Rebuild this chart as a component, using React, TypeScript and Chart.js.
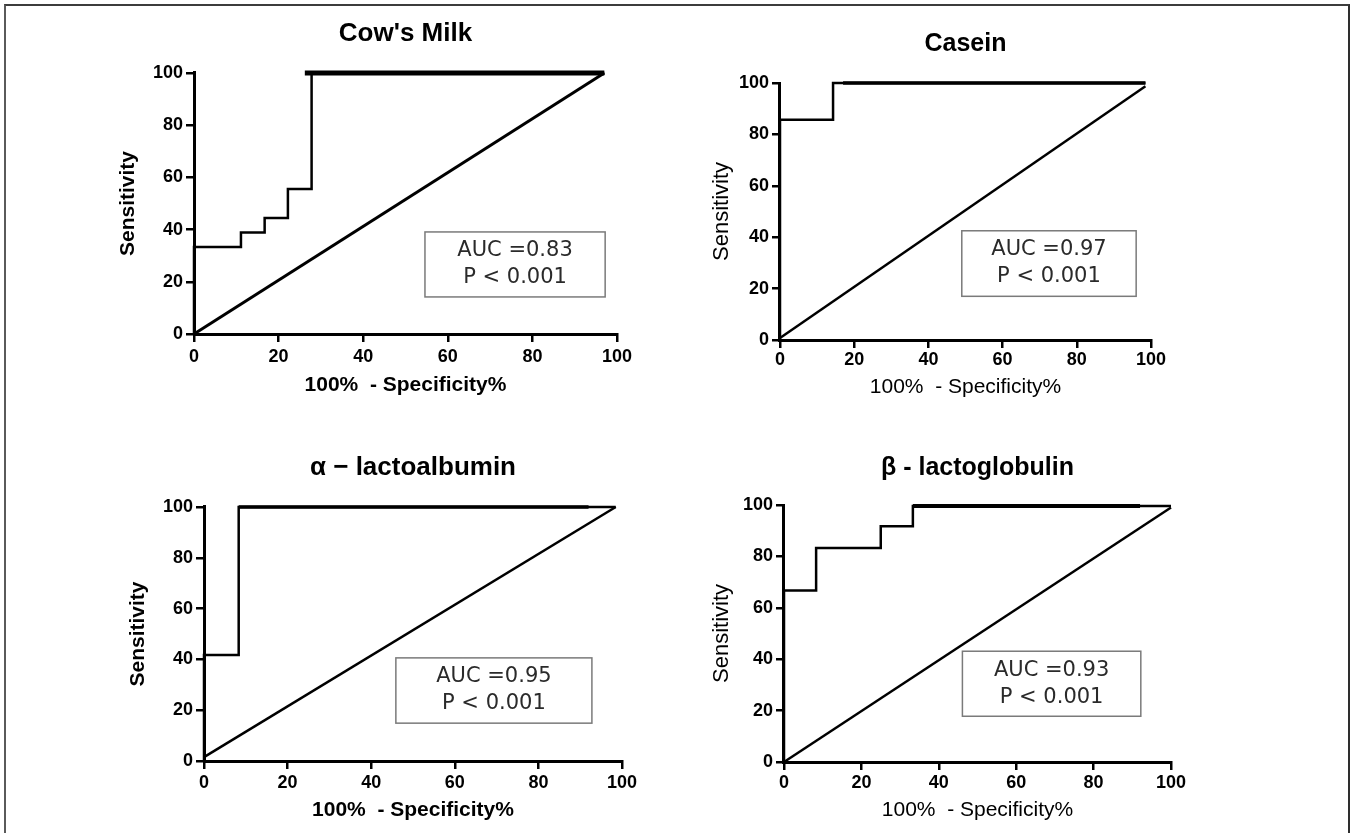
import React, { useEffect, useRef } from "react";
import { Chart, registerables } from "chart.js";

Chart.register(...registerables);

// ---------- data ----------
const xTicks = [0, 20, 40, 60, 80, 100];
const yTicks = [0, 20, 40, 60, 80, 100];

const titles = ["Cow's Milk", "Casein", "α − lactoalbumin", "β - lactoglobulin"];
const aucValues = ["0.83", "0.97", "0.95", "0.93"];
const pValues = ["0.001", "0.001", "0.001", "0.001"];

// Cow's milk ROC (points of the staircase; drawn horizontal-then-vertical)
const cowRocX = [0, 0, 11.1, 16.7, 22.2, 27.8, 97];
const cowRocY = [0, 33.3, 38.9, 44.4, 55.6, 100, 100];
const cowTopX = [26.2, 97];
const cowTopY = [100, 100];
const cowDiagX = [0, 97];
const cowDiagY = [0, 100];

// Casein
const caseinRocX = [0, 0, 14.3, 98.5];
const caseinRocY = [0, 85.7, 100, 100];
const caseinTopX = [17, 98.5];
const caseinTopY = [100, 100];
const caseinDiagX = [0, 98.5];
const caseinDiagY = [0.8, 98.7];

// alpha-lactalbumin
const alphaRocX = [0, 0, 8.3, 98.5];
const alphaRocY = [0, 41.7, 100, 100];
const alphaTopX = [8.3, 92];
const alphaTopY = [100, 100];
const alphaDiagX = [0, 98.5];
const alphaDiagY = [1.5, 100];

// beta-lactoglobulin
const betaRocX = [0, 0, 8.3, 25, 33.3, 100];
const betaRocY = [0, 66.7, 83.3, 91.7, 99.6, 99.6];
const betaTopX = [33.3, 92];
const betaTopY = [99.6, 99.6];
const betaDiagX = [0, 100];
const betaDiagY = [0, 99];

// ---------- layout / style ----------
const SANS = "'Liberation Sans', Arial, Helvetica, sans-serif";
const BOXFONT = "'DejaVu Sans', Verdana, sans-serif";

type Geo = { L: number; R: number; T: number; B: number; titleY: number; xLabelY: number; xTitleY: number; yTitleX: number };
type F = { size: number; weight: string };
type PanelCfg = {
  title: string;
  auc: string;
  p: string;
  rocX: number[]; rocY: number[];
  topX: number[]; topY: number[];
  diagX: number[]; diagY: number[];
  geo: Geo;
  titleFont: F; tickFont: F; xTitleFont: F; yTitleFont: F;
  box: { x0: number; x1: number; y0: number; y1: number };
  topWidth: number;
  diagWidth: number;
};

const bigFonts = {
  titleFont: { size: 26, weight: "bold" },
  tickFont: { size: 18, weight: "bold" },
  xTitleFont: { size: 21, weight: "bold" },
  yTitleFont: { size: 21, weight: "bold" },
};
const smallFonts = {
  titleFont: { size: 25, weight: "bold" },
  tickFont: { size: 18, weight: "bold" },
  xTitleFont: { size: 21, weight: "normal" },
  yTitleFont: { size: 22, weight: "normal" },
};

const panels: PanelCfg[] = [
  {
    title: titles[0], auc: aucValues[0], p: pValues[0],
    rocX: cowRocX, rocY: cowRocY, topX: cowTopX, topY: cowTopY, diagX: cowDiagX, diagY: cowDiagY,
    geo: { L: 194, R: 617, T: 73, B: 334, titleY: 34, xLabelY: 357, xTitleY: 385, yTitleX: 128 },
    ...bigFonts,
    box: { x0: 54.6, x1: 97.2, y0: 14.2, y1: 39.1 },
    topWidth: 5,
    diagWidth: 3,
  },
  {
    title: titles[1], auc: aucValues[1], p: pValues[1],
    rocX: caseinRocX, rocY: caseinRocY, topX: caseinTopX, topY: caseinTopY, diagX: caseinDiagX, diagY: caseinDiagY,
    geo: { L: 780, R: 1151, T: 83, B: 340, titleY: 44, xLabelY: 360, xTitleY: 387, yTitleX: 722 },
    ...smallFonts,
    box: { x0: 49, x1: 96, y0: 17, y1: 42.5 },
    topWidth: 3.5,
    diagWidth: 2.5,
  },
  {
    title: titles[2], auc: aucValues[2], p: pValues[2],
    rocX: alphaRocX, rocY: alphaRocY, topX: alphaTopX, topY: alphaTopY, diagX: alphaDiagX, diagY: alphaDiagY,
    geo: { L: 204, R: 622, T: 507, B: 761, titleY: 468, xLabelY: 783, xTitleY: 810, yTitleX: 138 },
    ...bigFonts,
    box: { x0: 45.9, x1: 92.8, y0: 14.9, y1: 40.6 },
    topWidth: 3.5,
    diagWidth: 2.5,
  },
  {
    title: titles[3], auc: aucValues[3], p: pValues[3],
    rocX: betaRocX, rocY: betaRocY, topX: betaTopX, topY: betaTopY, diagX: betaDiagX, diagY: betaDiagY,
    geo: { L: 784, R: 1171, T: 505, B: 762, titleY: 468, xLabelY: 783, xTitleY: 810, yTitleX: 722 },
    ...smallFonts,
    box: { x0: 46.1, x1: 92.2, y0: 17.8, y1: 43.1 },
    topWidth: 4,
    diagWidth: 2.5,
  },
];

const TICK_LEN = 8;

function geometry(c: PanelCfg) {
  const g = c.geo;
  const lhT = c.titleFont.size * 1.2;
  const lhX = c.xTitleFont.size * 1.2;
  const lhY = c.yTitleFont.size * 1.2;
  const lhTick = c.tickFont.size * 1.2;
  const yw = g.L - g.yTitleX + lhY / 2;
  const cx = Math.floor(g.L - yw - 6);
  const lp = g.L - yw - cx;
  const cy = Math.floor(g.titleY - lhT / 2 - 4);
  const tp = g.titleY - lhT / 2 - cy;
  const titlePadBottom = g.T - g.titleY - lhT / 2;
  const xh = g.xTitleY - g.B + lhX / 2;
  const cw = Math.ceil(g.R + 30 - cx);
  const rp = cx + cw - g.R;
  const ch = Math.ceil(g.B + xh + 6 - cy);
  const bp = cy + ch - g.B - xh;
  const xLabelPad = g.xLabelY - g.B - TICK_LEN - lhTick / 2;
  return { cx, cy, cw, ch, lp, tp, rp, bp, yw, xh, titlePadBottom, xLabelPad };
}

const aucBoxPlugin = {
  id: "aucBox",
  afterDatasetsDraw(chart: any, _args: any, opts: any) {
    const { ctx, scales } = chart;
    const b = opts.box;
    if (!b) return;
    const x0 = scales.x.getPixelForValue(b.x0);
    const x1 = scales.x.getPixelForValue(b.x1);
    const y0 = scales.y.getPixelForValue(b.y1);
    const y1 = scales.y.getPixelForValue(b.y0);
    ctx.save();
    ctx.strokeStyle = "#7a7a7a";
    ctx.lineWidth = 1.5;
    ctx.strokeRect(x0, y0, x1 - x0, y1 - y0);
    ctx.fillStyle = "#2a2a2a";
    ctx.font = `21px ${BOXFONT}`;
    ctx.textAlign = "center";
    ctx.textBaseline = "middle";
    const cxm = (x0 + x1) / 2;
    const cym = (y0 + y1) / 2;
    ctx.fillText(opts.line1, cxm, cym - 13.5);
    ctx.fillText(opts.line2, cxm, cym + 13.5);
    ctx.restore();
  },
};

function pts(xs: number[], ys: number[]) {
  return xs.map((x, i) => ({ x, y: ys[i] }));
}

function Panel({ cfg }: { cfg: PanelCfg }) {
  const ref = useRef<HTMLCanvasElement | null>(null);
  const g = geometry(cfg);
  useEffect(() => {
    if (!ref.current) return;
    const lineBase = {
      borderColor: "#000",
      pointRadius: 0,
      tension: 0,
      fill: false,
      clip: false as any,
      borderCapStyle: "butt" as const,
      borderJoinStyle: "miter" as const,
    };
    const chart = new Chart(ref.current, {
      type: "line",
      data: {
        datasets: [
          { ...lineBase, label: "roc", data: pts(cfg.rocX, cfg.rocY), borderWidth: 2.5, stepped: "before" as const },
          { ...lineBase, label: "top", data: pts(cfg.topX, cfg.topY), borderWidth: cfg.topWidth },
          { ...lineBase, label: "diag", data: pts(cfg.diagX, cfg.diagY), borderWidth: cfg.diagWidth },
        ],
      },
      options: {
        animation: false,
        responsive: false,
        devicePixelRatio: 1,
        layout: { padding: { left: g.lp, right: g.rp, top: g.tp, bottom: g.bp } },
        plugins: {
          legend: { display: false },
          tooltip: { enabled: false },
          title: {
            display: true,
            text: cfg.title,
            fullSize: false,
            color: "#000",
            font: { family: SANS, size: cfg.titleFont.size, weight: cfg.titleFont.weight as any, lineHeight: 1.2 },
            padding: { top: 0, bottom: g.titlePadBottom },
          },
          aucBox: { box: cfg.box, line1: `AUC =${cfg.auc}`, line2: `P < ${cfg.p}` },
        } as any,
        scales: {
          x: {
            type: "linear",
            min: 0,
            max: 100,
            afterBuildTicks: (s: any) => { s.ticks = xTicks.map((v) => ({ value: v })); },
            afterFit: (s: any) => { s.height = g.xh; s.paddingLeft = 0; s.paddingRight = 0; },
            ticks: {
              color: "#000",
              autoSkip: false,
              maxRotation: 0,
              padding: g.xLabelPad,
              font: { family: SANS, size: cfg.tickFont.size, weight: cfg.tickFont.weight as any },
            },
            grid: { display: true, drawOnChartArea: false, drawTicks: true, tickLength: TICK_LEN, color: "#000", lineWidth: 2.5 },
            border: { display: true, color: "#000", width: 3 },
            title: {
              display: true,
              text: "100%  - Specificity%",
              color: "#000",
              padding: 0,
              font: { family: SANS, size: cfg.xTitleFont.size, weight: cfg.xTitleFont.weight as any, lineHeight: 1.2 },
            },
          },
          y: {
            type: "linear",
            min: 0,
            max: 100,
            afterBuildTicks: (s: any) => { s.ticks = yTicks.map((v) => ({ value: v })); },
            afterFit: (s: any) => { s.width = g.yw; s.paddingTop = 0; s.paddingBottom = 0; },
            ticks: {
              color: "#000",
              autoSkip: false,
              padding: 3,
              font: { family: SANS, size: cfg.tickFont.size, weight: cfg.tickFont.weight as any },
            },
            grid: { display: true, drawOnChartArea: false, drawTicks: true, tickLength: TICK_LEN, color: "#000", lineWidth: 2.5 },
            border: { display: true, color: "#000", width: 3 },
            title: {
              display: true,
              text: "Sensitivity",
              color: "#000",
              padding: 0,
              font: { family: SANS, size: cfg.yTitleFont.size, weight: cfg.yTitleFont.weight as any, lineHeight: 1.2 },
            },
          },
        },
      },
      plugins: [aucBoxPlugin],
    });
    return () => chart.destroy();
  }, []);
  return (
    <canvas
      ref={ref}
      width={g.cw}
      height={g.ch}
      style={{ position: "absolute", left: g.cx, top: g.cy, width: g.cw, height: g.ch }}
    />
  );
}

export default function App() {
  useEffect(() => {
    document.body.style.margin = "0";
    document.body.style.overflow = "hidden";
    document.body.style.background = "#fff";
  }, []);
  return (
    <div style={{ position: "relative", width: 1352, height: 833, overflow: "hidden", background: "#fff" }}>
      <div
        style={{
          position: "absolute",
          left: 4,
          top: 4,
          width: 1342,
          height: 840,
          borderTop: "2px solid #3c3c3c",
          borderLeft: "2px solid #5a5a5a",
          borderRight: "2px solid #2e2e2e",
          boxSizing: "content-box",
        }}
      />
      {panels.map((p, i) => (
        <Panel key={i} cfg={p} />
      ))}
    </div>
  );
}
